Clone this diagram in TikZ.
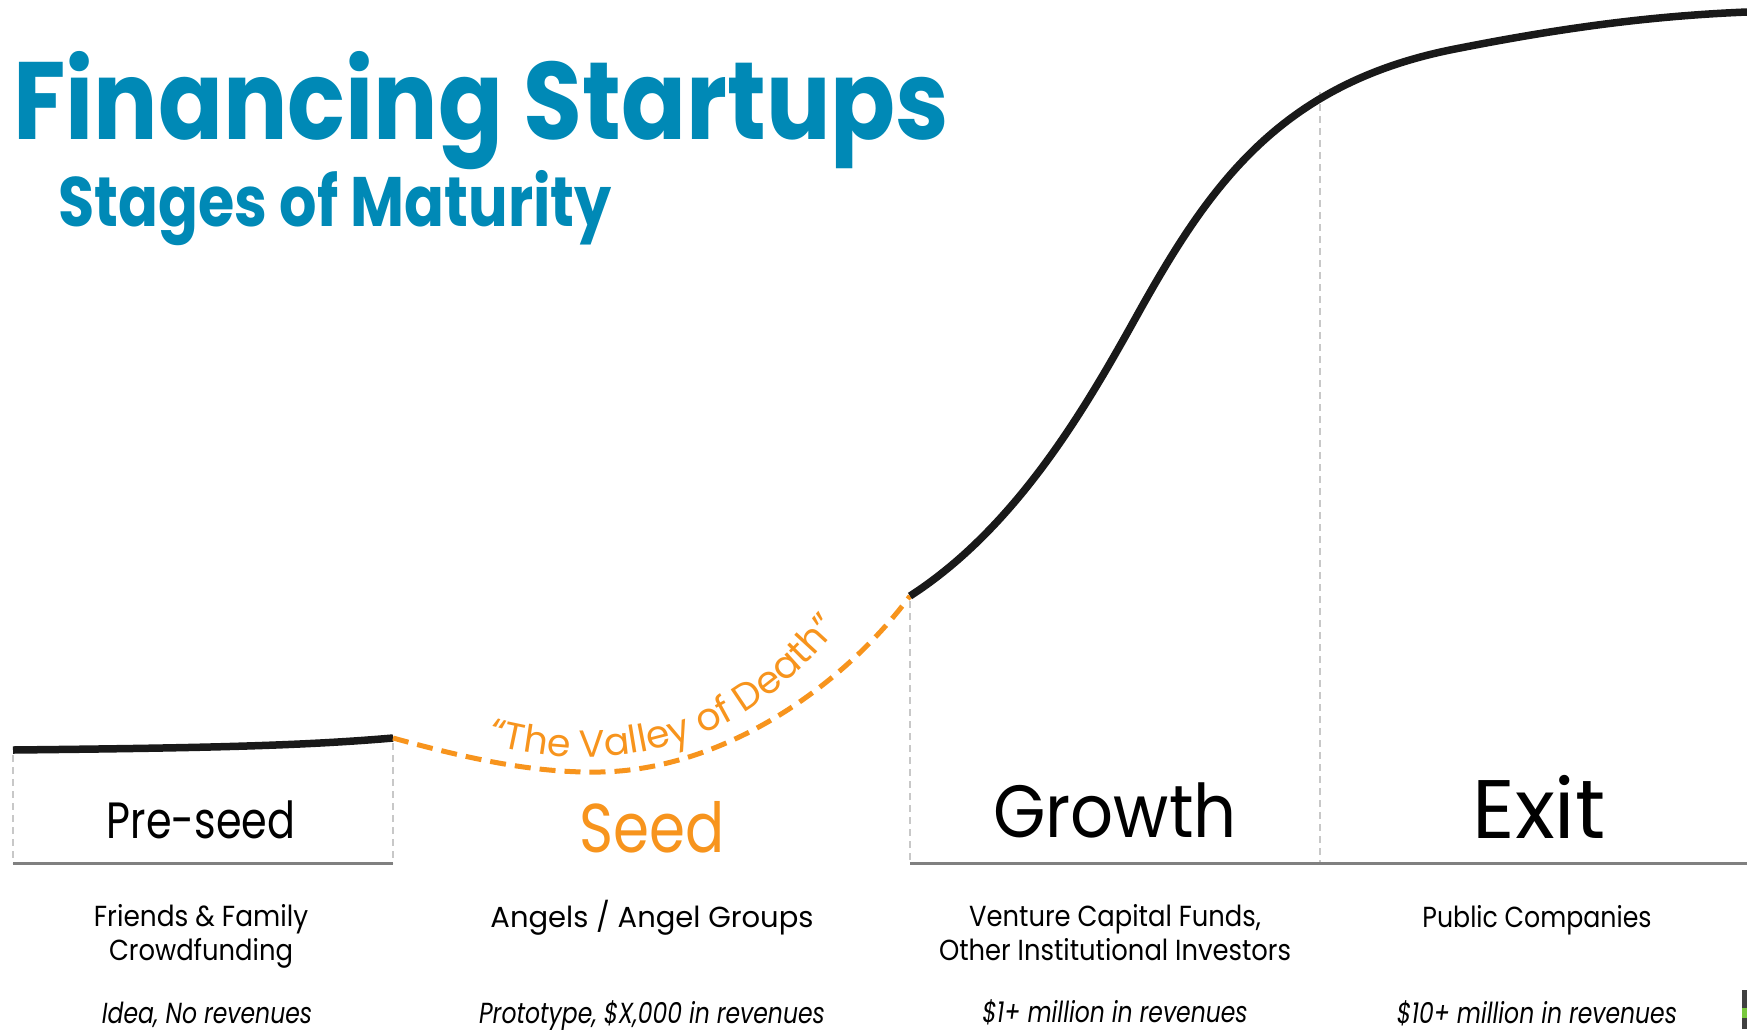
\documentclass[tikz,border=0pt]{standalone}
\usepackage{fontspec}
\setmainfont{Poppins}
\usepackage{tikz}
\usetikzlibrary{decorations.text}
\definecolor{titleblue}{RGB}{0,137,182}
\definecolor{valley}{RGB}{247,148,29}
\definecolor{floorgray}{RGB}{128,128,128}
\definecolor{guidegray}{RGB}{200,200,200}
\definecolor{logogreen}{RGB}{120,200,60}
% squeeze a label horizontally
\newcommand{\narrow}[2]{\scalebox{#1}[1]{#2}}

\begin{document}
\begin{tikzpicture}[
        x=1pt, y=-1pt,
        curve/.style={line width=7.5pt, black!90},
        valleyline/.style={line width=5pt, valley, dash pattern=on 16pt off 9pt},
        guide/.style={line width=1.6pt, guidegray, dash pattern=on 7pt off 5pt},
        floor/.style={line width=3pt, floorgray},
        stage/.style={anchor=base, inner sep=0pt},
        who/.style={anchor=base, inner sep=0pt, align=center,
                    font=\fontsize{29}{33.5}\selectfont},
        rev/.style={anchor=base, inner sep=0pt,
                    font=\fontsize{29}{33}\selectfont\itshape},
      ]
        \useasboundingbox (0,0) rectangle (1747,1029);

        % Title
        \node[anchor=base west, inner sep=0pt, text=titleblue,
              font=\fontsize{110}{110}\selectfont\bfseries] (title) at (13,139)
          {\narrow{0.87}{Financing Startups}};
        \node[anchor=base west, inner sep=0pt, text=titleblue,
              font=\fontsize{70}{70}\selectfont\bfseries] (subtitle) at (58,226)
          {\narrow{0.84}{Stages of Maturity}};

        % Curve junctions
        \coordinate (start)   at (13,750);
        \coordinate (gap)     at (393,738);
        \coordinate (rise)    at (910,596);
        \coordinate (mid)     at (1140,310);
        \coordinate (shoulder) at (1450,50);
        \coordinate (plateau) at (1747,12);

        % Stage boundaries
        \foreach \x/\ytop in {13/755, 393/743, 910/601, 1320/92}
          \draw[guide] (\x,\ytop) -- (\x,863);
        \draw[floor] (13,863) -- (393,863);
        \draw[floor] (910,863) -- (1747,863);

        % Maturity curve
        \draw[curve] (start) .. controls (200,748) and (300,746) .. (gap);
        \draw[valleyline] (gap) .. controls (480,762) and (540,773) .. (600,772)
          .. controls (720,770) and (840,690) .. (rise);
        \draw[curve] (rise) .. controls (1020,525) and (1090,400) .. (mid)
          .. controls (1210,185) and (1280,85) .. (shoulder)
          .. controls (1560,28) and (1650,16) .. (plateau);

        % Valley label
        \path[decorate, decoration={text along path, text align=center,
              text color=valley,
              text={|\fontsize{38}{38}\selectfont|“The Valley of Death”}}]
          (455,733) .. controls (585,780) and (740,770) .. (860,600);

        % Stage names
        \node[stage, font=\fontsize{51}{51}\selectfont] (preseed) at (201,838)
          {\narrow{0.81}{Pre-seed}};
        \node[stage, font=\fontsize{69}{69}\selectfont, text=valley] (seed) at (652,852)
          {\narrow{0.84}{Seed}};
        \node[stage, font=\fontsize{74}{74}\selectfont] (growth) at (1115,837)
          {\narrow{0.91}{Growth}};
        \node[stage, font=\fontsize{83}{83}\selectfont] (exit) at (1539,838) {Exit};

        % Investors
        \node[who] (ff)     at (201,960)
          {\narrow{0.91}{Friends \& Family}\\\narrow{0.89}{Crowdfunding}};
        \node[who] (angels) at (652,927) {Angels / Angel Groups};
        \node[who] (vc)     at (1115,960)
          {\narrow{0.89}{Venture Capital Funds,}\\\narrow{0.89}{Other Institutional Investors}};
        \node[who] (public) at (1537,927) {\narrow{0.87}{Public Companies}};

        % Revenues
        \node[rev] (idea)  at (207,1023) {\narrow{0.81}{Idea, No revenues}};
        \node[rev] (proto) at (652,1023) {\narrow{0.81}{Prototype, \$X,000 in revenues}};
        \node[rev] (one)   at (1115,1022) {\narrow{0.81}{\$1+ million in revenues}};
        \node[rev] (ten)   at (1537,1023) {\narrow{0.81}{\$10+ million in revenues}};

        % Corner logo
        \fill[black!75] (1742,990) rectangle (1747,1029);
        \fill[logogreen] (1742,1008) rectangle (1747,1018);
      \end{tikzpicture}
\end{document}
